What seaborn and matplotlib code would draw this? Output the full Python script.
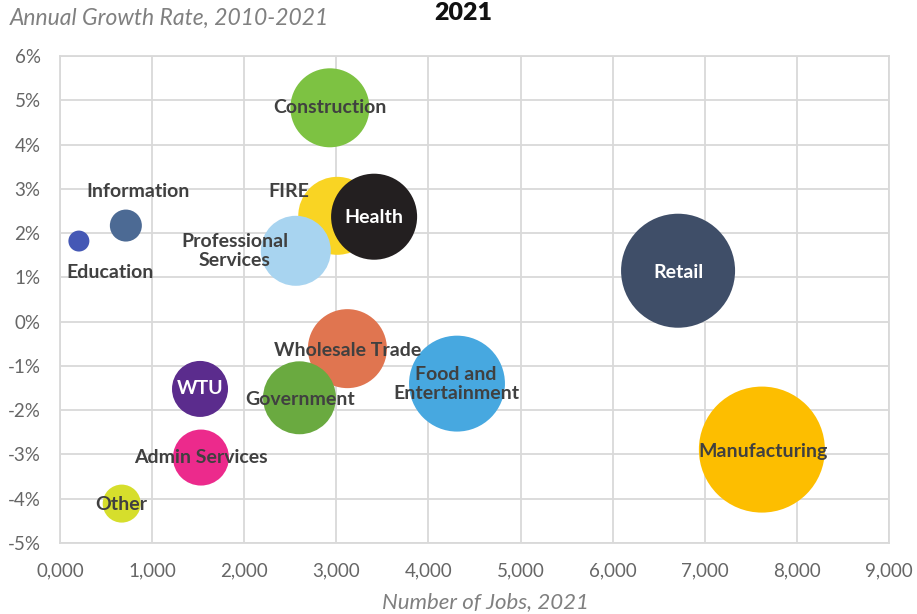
import matplotlib
matplotlib.use("Agg")
import matplotlib.pyplot as plt
import seaborn as sns
import pandas as pd

# ---- data ----
industries = ["Construction", "FIRE", "Professional Services", "Health", "Information",
              "Education", "Retail", "Wholesale Trade", "Government", "Food and Entertainment",
              "Manufacturing", "WTU", "Admin Services", "Other"]
jobs = [2930, 3010, 2560, 3410, 715, 205, 6710, 3120, 2600, 4310, 7620, 1520, 1530, 670]
growth = [4.83, 2.39, 1.60, 2.37, 2.17, 1.82, 1.15, -0.61, -1.72, -1.40, -2.89, -1.52, -3.07, -4.11]
# relative bubble area
bubble = [1560, 1520, 1225, 1850, 256, 110, 3250, 1560, 1330, 2300, 3970, 784, 784, 361]
colors = ["#7DC242", "#F9D423", "#A8D4F0", "#231F20", "#4C6A94", "#4558B5", "#3F4E68",
          "#E07550", "#6AAA40", "#47A8E0", "#FDBE00", "#5B2C8D", "#EC2A8C", "#D6DE2C"]
labels = ["Construction", "FIRE", "Professional\nServices", "Health", "Information",
          "Education", "Retail", "Wholesale Trade", "Government", "Food and\nEntertainment",
          "Manufacturing", "WTU", "Admin Services", "Other"]
# label anchor (data coords) and colour
label_x = [2935, 2480, 1900, 3410, 850, 540, 6720, 3120, 2610, 4300, 7630, 1520, 1530, 660]
label_y = [4.83, 2.95, 1.60, 2.35, 2.95, 1.10, 1.12, -0.65, -1.75, -1.40, -2.93, -1.52, -3.07, -4.13]
label_white = [False, False, False, True, False, False, True, False, False, False,
               False, True, False, False]
xtick_vals = [0, 1000, 2000, 3000, 4000, 5000, 6000, 7000, 8000, 9000]
xtick_labels = ["0,000", "1,000", "2,000", "3,000", "4,000", "5,000", "6,000", "7,000", "8,000", "9,000"]
ytick_vals = [-5, -4, -3, -2, -1, 0, 1, 2, 3, 4, 5, 6]
ytick_labels = ["-5%", "-4%", "-3%", "-2%", "-1%", "0%", "1%", "2%", "3%", "4%", "5%", "6%"]

df = pd.DataFrame({"industry": industries, "jobs": jobs, "growth": growth, "bubble": bubble})

sns.set_theme(style="white")
plt.rcParams["font.family"] = ["Lato", "DejaVu Sans"]

fig = plt.figure(figsize=(9.17, 6.14), dpi=100)
ax = fig.add_axes([60 / 917, 1 - 543 / 614, 829 / 917, 487 / 614])

# area in pt^2: radius r px -> (2*r*0.72)^2 = 2.0736 r^2
smin = 2.0736 * min(bubble)
smax = 2.0736 * max(bubble)
sns.scatterplot(data=df, x="jobs", y="growth", hue="industry",
                palette=dict(zip(industries, colors)), size="bubble",
                sizes=(smin, smax), size_norm=(min(bubble), max(bubble)),
                linewidth=0, alpha=1, legend=False, ax=ax, zorder=3)

for lx, ly, t, w in zip(label_x, label_y, labels, label_white):
    ax.text(lx, ly, t, ha="center", va="center", fontsize=14, fontweight="bold",
            color="white" if w else "#404040", zorder=5, linespacing=1.15)

ax.set_xlim(0, 9000)
ax.set_ylim(-5, 6)
ax.set_xticks(xtick_vals)
ax.set_xticklabels(xtick_labels)
ax.set_yticks(ytick_vals)
ax.set_yticklabels(ytick_labels)
ax.tick_params(axis="both", length=0, labelsize=13.5, colors="#666666")
ax.tick_params(axis="x", pad=14)
ax.tick_params(axis="y", pad=14)
ax.grid(True, color="#D9D9D9", linewidth=1.3, zorder=0)
ax.set_axisbelow(True)
for sp in ax.spines.values():
    sp.set_color("#D9D9D9")
    sp.set_linewidth(1.3)
ax.set_xlabel("")
ax.set_ylabel("")

fig.text(10 / 917, 1 - 18 / 614, "Annual Growth Rate, 2010-2021", ha="left", va="center",
         fontsize=16.5, style="italic", color="#808080")
fig.text(485 / 917, 1 - 602 / 614, "Number of Jobs, 2021", ha="center", va="center",
         fontsize=16, style="italic", color="#808080")
fig.text(463 / 917, 1 - 13 / 614, "2021", ha="center", va="center",
         fontsize=18, fontweight="heavy", color="#111111")

fig.savefig("out.png", dpi=100)
